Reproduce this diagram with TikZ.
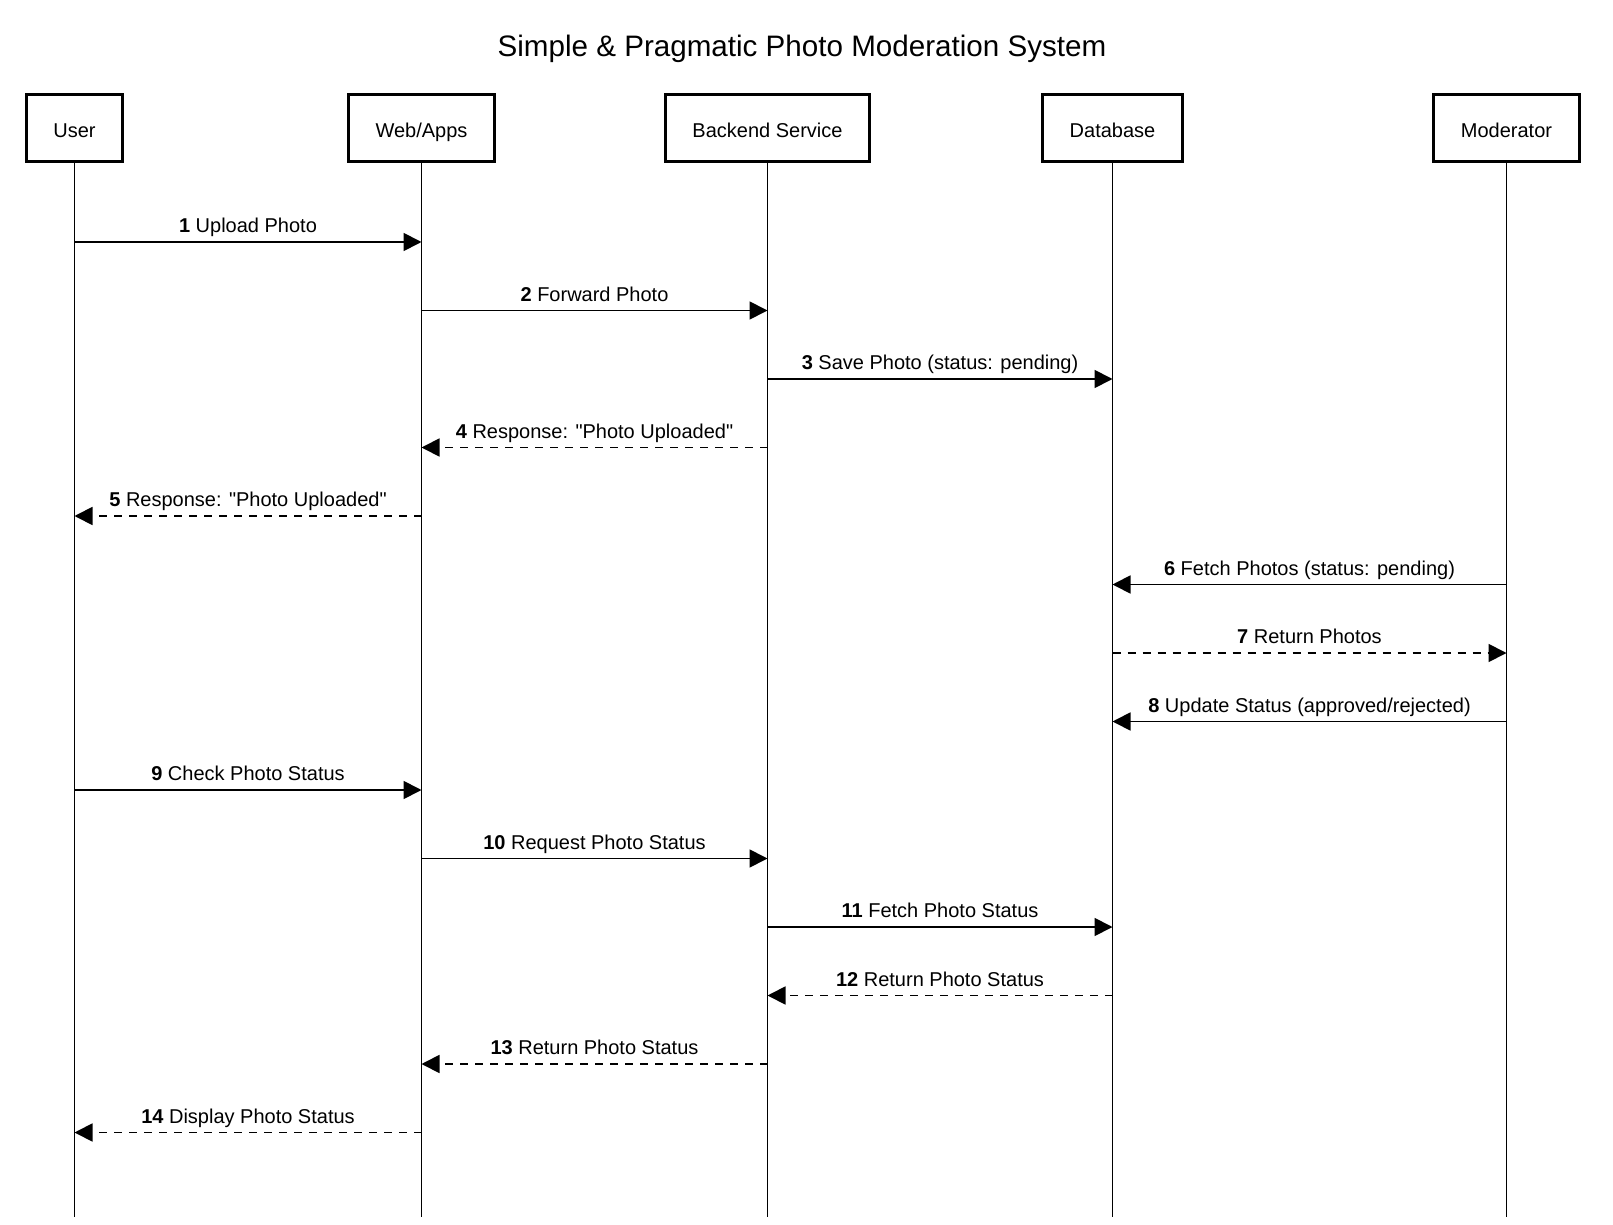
\documentclass[tikz,border=0pt]{standalone}
\usepackage{fontspec}
\setmainfont{Liberation Sans}
\newfontfamily\plainsans{Liberation Sans}
\usetikzlibrary{positioning, calc, arrows.meta}

\newcommand{\qt}{{\plainsans"}}

\begin{document}
\begin{tikzpicture}[
  x=0.5pt, y=-0.5pt,
  every node/.style={font=\fontsize{10}{12}\selectfont},
  actor/.style={rectangle, draw, line width=1.5pt, inner xsep=13.5pt, minimum height=33.5pt, text height=0.86em, text depth=0em, align=center},
  life/.style={line width=0.7pt},
  msg/.style={-{Triangle[length=9pt, width=9pt]}, line width=0.9pt},
  reply/.style={msg, dash pattern=on 4pt off 3.5pt},
  lbl/.style={above=2pt, inner sep=0pt, text depth=0.22em}
]
\useasboundingbox (0,0) rectangle (1613,1225);

%------------------------------------------------
% Title
%------------------------------------------------
\node[font=\fontsize{14.8}{17}\selectfont] (title) at (802,49) {Simple \& Pragmatic Photo Moderation System};

%------------------------------------------------
% Participants
%------------------------------------------------
\node[actor] (user) at (74.5,128.5) {User};
\node[actor] (web) at (421.5,128.5) {Web/Apps};
\node[actor] (backend) at (767.5,128.5) {Backend Service};
\node[actor] (db) at (1112.5,128.5) {Database};
\node[actor] (mod) at (1506.5,128.5) {Moderator};

% Lifelines
\coordinate (lifeend) at (0,1217);
\draw[life] (user.south) -- (user |- lifeend);
\draw[life] (web.south) -- (web |- lifeend);
\draw[life] (backend.south) -- (backend |- lifeend);
\draw[life] (db.south) -- (db |- lifeend);
\draw[life] (mod.south) -- (mod |- lifeend);

%------------------------------------------------
% Message rows
%------------------------------------------------
\coordinate (m1) at (0,242);
\coordinate (m2) at (0,310.5);
\coordinate (m3) at (0,379);
\coordinate (m4) at (0,447.5);
\coordinate (m5) at (0,516);
\coordinate (m6) at (0,584.5);
\coordinate (m7) at (0,653);
\coordinate (m8) at (0,721.5);
\coordinate (m9) at (0,790);
\coordinate (m10) at (0,858.5);
\coordinate (m11) at (0,927);
\coordinate (m12) at (0,995.5);
\coordinate (m13) at (0,1064);
\coordinate (m14) at (0,1132.5);

%------------------------------------------------
% Upload flow
%------------------------------------------------
\draw[msg] (user |- m1) -- node[lbl] {\textbf{1} Upload Photo} (web |- m1);
\draw[msg] (web |- m2) -- node[lbl] {\textbf{2} Forward Photo} (backend |- m2);
\draw[msg] (backend |- m3) -- node[lbl] {\textbf{3} Save Photo (status: pending)} (db |- m3);
\draw[reply] (backend |- m4) -- node[lbl] {\textbf{4} Response: \qt Photo Uploaded\qt} (web |- m4);
\draw[reply] (web |- m5) -- node[lbl] {\textbf{5} Response: \qt Photo Uploaded\qt} (user |- m5);

%------------------------------------------------
% Moderation flow
%------------------------------------------------
\draw[msg] (mod |- m6) -- node[lbl] {\textbf{6} Fetch Photos (status: pending)} (db |- m6);
\draw[reply] (db |- m7) -- node[lbl] {\textbf{7} Return Photos} (mod |- m7);
\draw[msg] (mod |- m8) -- node[lbl] {\textbf{8} Update Status (approved/rejected)} (db |- m8);

%------------------------------------------------
% Status check flow
%------------------------------------------------
\draw[msg] (user |- m9) -- node[lbl] {\textbf{9} Check Photo Status} (web |- m9);
\draw[msg] (web |- m10) -- node[lbl] {\textbf{10} Request Photo Status} (backend |- m10);
\draw[msg] (backend |- m11) -- node[lbl] {\textbf{11} Fetch Photo Status} (db |- m11);
\draw[reply] (db |- m12) -- node[lbl] {\textbf{12} Return Photo Status} (backend |- m12);
\draw[reply] (backend |- m13) -- node[lbl] {\textbf{13} Return Photo Status} (web |- m13);
\draw[reply] (web |- m14) -- node[lbl] {\textbf{14} Display Photo Status} (user |- m14);

\end{tikzpicture}
\end{document}
